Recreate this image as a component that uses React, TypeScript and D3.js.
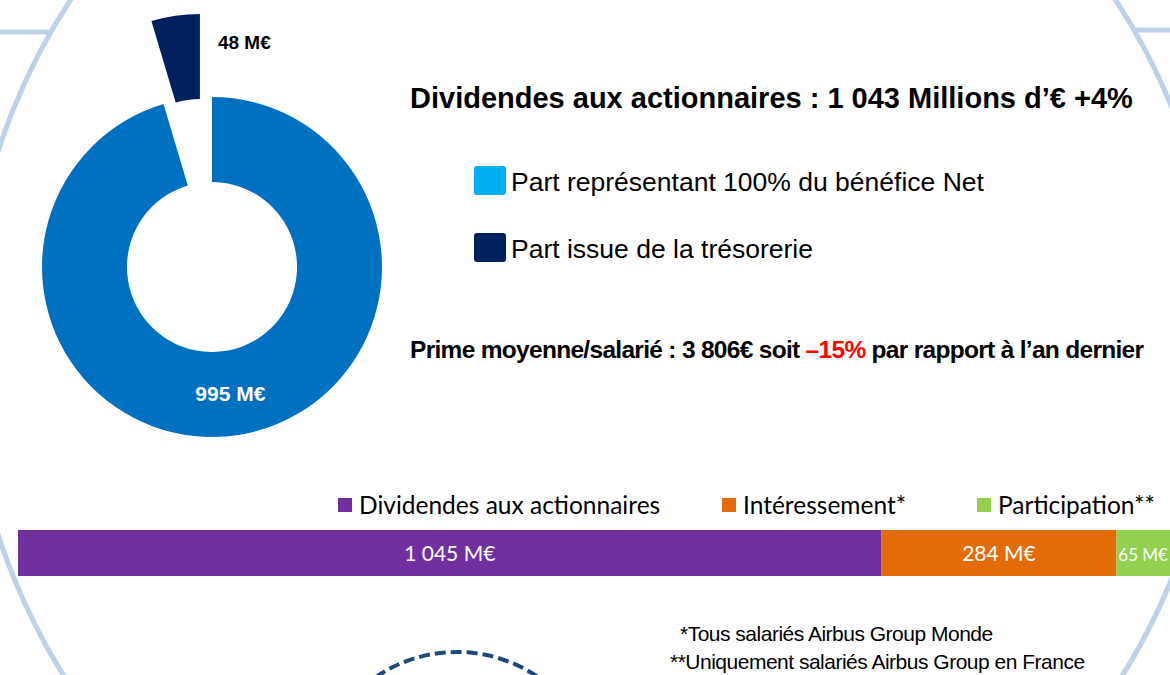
import React, { useRef, useEffect } from "react";
import * as d3 from "d3";

// donut: dividend split
const donutLabels = ["995 M€", "48 M€"];
const donutValues = [995, 48];
const donutColors = ["#0070c0", "#002060"];

const legendItems = ["Part représentant 100% du bénéfice Net", "Part issue de la trésorerie"];
const legendColors = ["#00b0f0", "#002060"];

// stacked bar: distribution
const barCategories = ["Dividendes aux actionnaires", "Intéressement*", "Participation**"];
const barValues = [1045, 284, 65];
const barLabels = ["1 045 M€", "284 M€", "65 M€"];
const barColors = ["#7030a0", "#e36c09", "#92d050"];

const footnotes = ["*Tous salariés Airbus Group Monde", "**Uniquement salariés Airbus Group en France"];

const W = 1170;
const H = 675;

const App = () => {
  const svgRef = useRef<SVGSVGElement>(null);

  useEffect(() => {
    document.body.style.margin = "0";
    const svg = d3.select(svgRef.current).attr("width", W).attr("height", H);
    svg.selectAll("*").remove();

    svg.append("rect").attr("width", W).attr("height", H).attr("fill", "#fff");

    // background decoration
    const deco = svg.append("g").attr("fill", "none").attr("stroke", "#bdd1e8").attr("stroke-width", 5);
    const cx0 = 593, cy0 = 343, r0 = 625;
    deco.append("circle").attr("cx", cx0).attr("cy", cy0).attr("r", r0);
    const xAt = (y: number, side: number) => cx0 + side * Math.sqrt(r0 * r0 - (y - cy0) ** 2);
    deco.append("line").attr("x1", 0).attr("x2", xAt(32, -1)).attr("y1", 32).attr("y2", 32);
    deco.append("line").attr("x1", xAt(30, 1)).attr("x2", W).attr("y1", 30).attr("y2", 30);

    // dashed circle at the bottom
    svg.append("circle")
      .attr("cx", 457).attr("cy", 796).attr("r", 144)
      .attr("fill", "none").attr("stroke", "#1f497d")
      .attr("stroke-width", 4).attr("stroke-dasharray", "11 5");

    // donut
    const dcx = 212, dcy = 267, explode = 84;
    const pie = d3.pie<number>().sort(null).value((d) => d);
    const arc = d3.arc<d3.PieArcDatum<number>>().innerRadius(85).outerRadius(170);
    const arcs = pie(donutValues);
    const dg = svg.append("g").attr("transform", `translate(${dcx},${dcy})`);
    arcs.forEach((a, i) => {
      const mid = (a.startAngle + a.endAngle) / 2;
      const off = i === 1 ? explode : 0;
      const g = dg.append("g").attr("transform", `translate(${Math.sin(mid) * off},${-Math.cos(mid) * off})`);
      g.append("path").attr("d", arc(a)).attr("fill", donutColors[i]);
      if (i === 0) {
        const [lx, ly] = arc.centroid(a);
        g.append("text").attr("x", lx).attr("y", ly + 8)
          .attr("text-anchor", "middle").attr("fill", "#fff")
          .attr("font-family", "'Liberation Sans Narrow', 'Liberation Sans', Arial").attr("font-weight", "bold")
          .attr("font-size", 21).text(donutLabels[i]);
      } else {
        const ex = Math.sin(a.endAngle) * 170, ey = -Math.cos(a.endAngle) * 170;
        g.append("text").attr("x", ex + 18).attr("y", ey + 35)
          .attr("fill", "#000")
          .attr("font-family", "'Liberation Sans Narrow', 'Liberation Sans', Arial").attr("font-weight", "bold")
          .attr("font-size", 19).text(donutLabels[i]);
      }
    });

    // title
    svg.append("text").attr("x", 410).attr("y", 108)
      .attr("font-family", "'Liberation Sans', Arial").attr("font-weight", "bold").attr("font-size", 29)
      .text("Dividendes aux actionnaires : 1 043 Millions d’€ +4%");

    // donut legend
    const lg = svg.append("g");
    legendItems.forEach((t, i) => {
      const y = 166 + i * 67;
      lg.append("rect").attr("x", 474).attr("y", y).attr("width", 32).attr("height", 29)
        .attr("rx", 3).attr("fill", legendColors[i]);
      lg.append("text").attr("x", 511).attr("y", y + 25)
        .attr("font-family", "'Liberation Sans', Arial").attr("font-size", 26.5).text(t);
    });

    // prime
    const pt = svg.append("text").attr("x", 410).attr("y", 358)
      .attr("font-family", "'Liberation Sans', Arial").attr("font-weight", "bold").attr("font-size", 24.5)
      .attr("letter-spacing", -0.7);
    pt.append("tspan").text("Prime moyenne/salarié : 3 806€ soit ");
    pt.append("tspan").attr("fill", "#ff0000").text("–15%");
    pt.append("tspan").text(" par rapport à l’an dernier");

    // stacked bar
    const total = d3.sum(barValues);
    const x = d3.scaleLinear().domain([0, total]).range([18, W]);
    const starts = d3.cumsum([0, ...barValues.slice(0, -1)]);
    const bg = svg.append("g");
    barValues.forEach((v, i) => {
      const x0 = x(starts[i]), x1 = x(starts[i] + v);
      bg.append("rect").attr("x", x0).attr("y", 530).attr("width", x1 - x0).attr("height", 46).attr("fill", barColors[i]);
      const t = bg.append("text").attr("x", (x0 + x1) / 2).attr("y", 561).attr("text-anchor", "middle")
        .attr("fill", "#fff").attr("font-family", "Lato, 'Open Sans', sans-serif").attr("font-size", 21)
        .text(barLabels[i]);
      // shrink the label if it does not fit in its segment
      const tw = (t.node() as SVGTextElement).getComputedTextLength();
      if (tw > x1 - x0 - 4) t.attr("font-size", (21 * (x1 - x0 - 4)) / tw);
    });

    // bar legend
    const legX = [338, 722, 977];
    barCategories.forEach((c, i) => {
      bg.append("rect").attr("x", legX[i]).attr("y", 498).attr("width", 14).attr("height", 14).attr("fill", barColors[i]);
      bg.append("text").attr("x", legX[i] + 21).attr("y", 514)
        .attr("font-family", "Lato, 'Open Sans', sans-serif").attr("font-size", 24.5).attr("fill", "#000").text(c);
    });

    // footnotes
    footnotes.forEach((t, i) => {
      svg.append("text").attr("x", i === 0 ? 680 : 670).attr("y", 641 + i * 28)
        .attr("font-family", "'Liberation Sans', Arial").attr("font-size", 21).attr("letter-spacing", -0.5)
        .text(t);
    });
  }, []);

  return <svg ref={svgRef} style={{ display: "block" }}></svg>;
};

export default App;
